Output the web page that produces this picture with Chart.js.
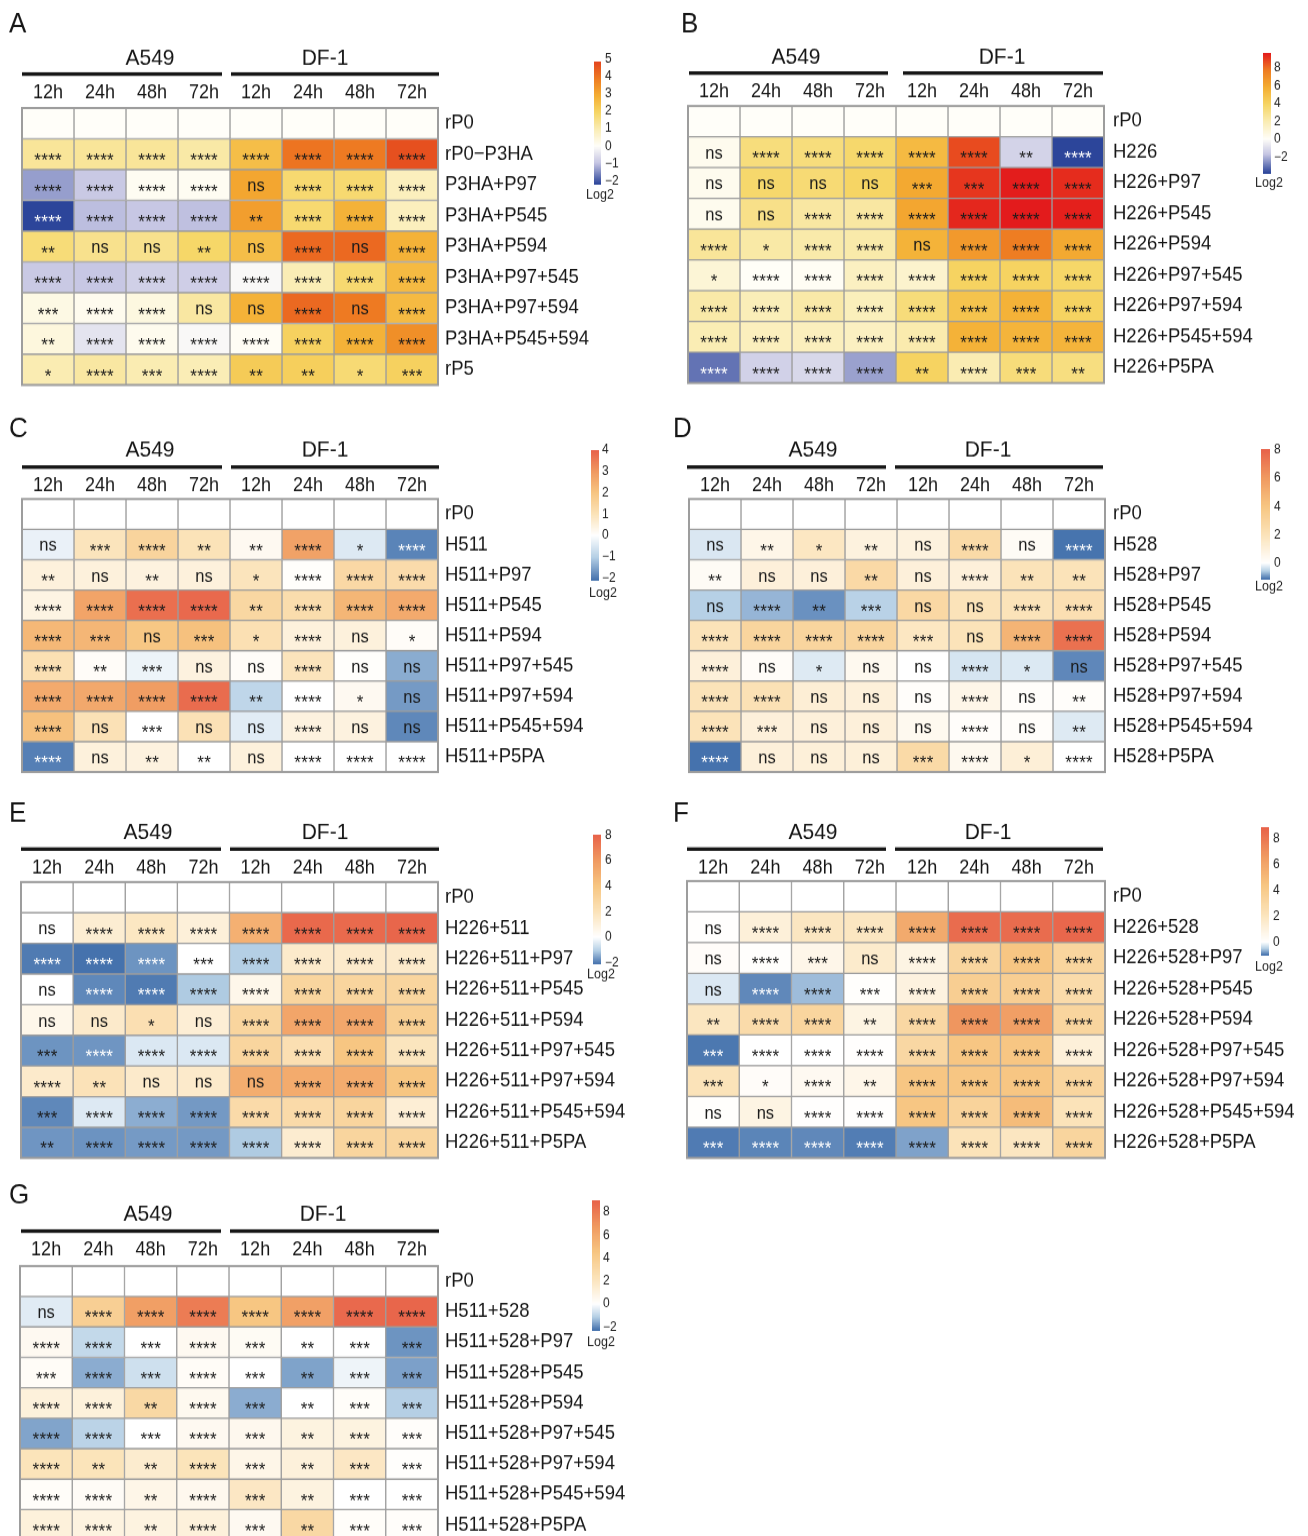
<!DOCTYPE html>
<html>
<head>
<meta charset="utf-8">
<script src="https://cdn.jsdelivr.net/npm/chart.js@4.4.1/dist/chart.umd.min.js"></script>
<style>
  html, body { margin: 0; padding: 0; background: #ffffff; width: 1308px; height: 1536px; overflow: hidden; }
  .panel { position: absolute; transform-origin: 0 0; }
  canvas { display: block; }
</style>
</head>
<body>
<script>
// ---- shared labels ----
const timeLabels = ['12h', '24h', '48h', '72h', '12h', '24h', '48h', '72h'];
const cellLines = ['A549', 'DF-1'];

// ---- panel A ----
const rowsA = ['rP0', 'rP0\u2212P3HA', 'P3HA+P97', 'P3HA+P545', 'P3HA+P594', 'P3HA+P97+545', 'P3HA+P97+594', 'P3HA+P545+594', 'rP5'];
const log2A = [
  [0, 0, 0, 0, 0, 0, 0, 0],
  [1.3, 1.3, 1.3, 1.15, 2.5, 4.0, 3.9, 4.65],
  [-1.35, -0.92, 0.1, 0.1, 3.05, 1.8, 1.8, 0.85],
  [-2.2, -1.05, -0.95, -1.03, 3.2, 1.8, 2.8, 0.85],
  [1.7, 1.45, 1.45, 1.9, 2.5, 4.2, 4.2, 2.8],
  [-0.92, -0.95, -0.8, -0.82, -0.1, 0.97, 1.8, 2.6],
  [0.3, 0.15, 0.35, 1.2, 2.8, 4.2, 3.9, 2.6],
  [0.4, -0.45, 0.15, -0.1, 0.05, 2.05, 2.8, 3.5],
  [1.0, 1.2, 1.0, 0.95, 2.2, 2.1, 1.75, 2.05]
];
const sigA = [
  '',
  '**** **** **** **** **** **** **** ****',
  '**** **** **** **** ns **** **** ****',
  '**** **** **** **** ** **** **** ****',
  '** ns ns ** ns **** ns ****',
  '**** **** **** **** **** **** **** ****',
  '*** **** **** ns ns **** ns ****',
  '** **** **** **** **** **** **** ****',
  '* **** *** **** ** ** * ***'
];
const whiteA = ['3:0'];

// ---- panel B ----
const rowsB = ['rP0', 'H226', 'H226+P97', 'H226+P545', 'H226+P594', 'H226+P97+545', 'H226+P97+594', 'H226+P545+594', 'H226+P5PA'];
const log2B = [
  [0, 0, 0, 0, 0, 0, 0, 0],
  [0.3, 3.3, 3.3, 3.7, 5.2, 8.7, -1.3, -3.8],
  [0.3, 3.7, 3.5, 3.9, 6.0, 9.1, 9.6, 9.3],
  [0.3, 3.0, 2.4, 2.4, 6.1, 9.4, 9.65, 9.55],
  [2.6, 2.3, 2.2, 2.2, 5.55, 6.6, 7.7, 6.0],
  [1.0, 0.05, 0.15, 1.6, 1.25, 4.0, 4.0, 3.8],
  [2.25, 1.85, 2.25, 1.75, 3.35, 4.8, 5.6, 4.0],
  [1.95, 1.7, 1.7, 1.6, 2.1, 5.6, 5.5, 5.5],
  [-3.05, -1.35, -1.15, -2.3, 4.0, 2.0, 3.35, 3.2]
];
const sigB = [
  '',
  'ns **** **** **** **** **** ** ****',
  'ns ns ns ns *** *** **** ****',
  'ns ns **** **** **** **** **** ****',
  '**** * **** **** ns **** **** ****',
  '* **** **** **** **** **** **** ****',
  '**** **** **** **** **** **** **** ****',
  '**** **** **** **** **** **** **** ****',
  '**** **** **** **** ** **** *** **'
];
const whiteB = ['1:7', '8:0'];

// ---- panel C ----
const rowsC = ['rP0', 'H511', 'H511+P97', 'H511+P545', 'H511+P594', 'H511+P97+545', 'H511+P97+594', 'H511+P545+594', 'H511+P5PA'];
const log2C = [
  [0, 0, 0, 0, 0, 0, 0, 0],
  [-0.3, 0.95, 1.5, 1.0, 0.2, 2.8, -0.48, -1.9],
  [0.5, 0.5, 0.45, 0.5, 0.95, 0.05, 1.35, 1.25],
  [0.4, 2.75, 3.75, 3.85, 1.4, 1.2, 2.35, 2.6],
  [2.3, 2.35, 1.95, 2.1, 1.1, 0.5, 0.5, 0.1],
  [1.1, 0.1, -0.25, 0.45, 0.1, 0.95, 0.05, -1.45],
  [2.6, 2.65, 2.9, 3.8, -0.9, 0, 0.2, -1.65],
  [2.1, 1.05, 0, 1.05, -0.42, 0.45, 0.45, -1.85],
  [-1.95, 0.5, 0.45, 0, 0.5, 0, 0, 0]
];
const sigC = [
  '',
  'ns *** **** ** ** **** * ****',
  '** ns ** ns * **** **** ****',
  '**** **** **** **** ** **** **** ****',
  '**** *** ns *** * **** ns *',
  '**** ** *** ns ns **** ns ns',
  '**** **** **** **** ** **** * ns',
  '**** ns *** ns ns **** ns ns',
  '**** ns ** ** ns **** **** ****'
];
const whiteC = ['1:7', '8:0'];

// ---- panel D ----
const rowsD = ['rP0', 'H528', 'H528+P97', 'H528+P545', 'H528+P594', 'H528+P97+545', 'H528+P97+594', 'H528+P545+594', 'H528+P5PA'];
const log2D = [
  [0, 0, 0, 0, 0, 0, 0, 0],
  [-0.28, 0.65, 1.75, 0.95, 0.95, 2.65, 0.3, -1.12],
  [0.3, 1.05, 1.05, 2.7, 1.05, 1.05, 2.0, 2.0],
  [-0.55, -0.72, -0.94, -0.53, 2.75, 2.0, 2.0, 2.25],
  [2.0, 3.0, 3.0, 3.0, 1.75, 2.0, 4.8, 7.5],
  [1.05, 0.2, -0.25, 0.45, 0, -0.31, -0.26, -1.0],
  [2.0, 2.15, 1.2, 1.05, 0.15, 0.65, 0.15, 0.15],
  [2.0, 1.05, 1.05, 1.05, 0.45, 0.15, 0.15, -0.25],
  [-1.15, 1.05, 1.1, 1.1, 2.65, 0.45, 1.15, 0]
];
const sigD = [
  '',
  'ns ** * ** ns **** ns ****',
  '** ns ns ** ns **** ** **',
  'ns **** ** *** ns ns **** ****',
  '**** **** **** **** *** ns **** ****',
  '**** ns * ns ns **** * ns',
  '**** **** ns ns ns **** ns **',
  '**** *** ns ns ns **** ns **',
  '**** ns ns ns *** **** * ****'
];
const whiteD = ['1:7', '8:0'];

// ---- panel E ----
const rowsE = ['rP0', 'H226+511', 'H226+511+P97', 'H226+511+P545', 'H226+511+P594', 'H226+511+P97+545', 'H226+511+P97+594', 'H226+511+P545+594', 'H226+511+P5PA'];
const log2E = [
  [0, 0, 0, 0, 0, 0, 0, 0],
  [0, 1.3, 1.75, 1.1, 5.0, 7.8, 7.75, 7.9],
  [-2.0, -2.1, -1.72, 0, -1.05, 1.5, 1.5, 1.5],
  [0, -1.85, -2.0, -1.1, 0.6, 3.0, 3.0, 3.0],
  [0.6, 1.5, 2.25, 1.2, 3.0, 5.5, 5.4, 3.4],
  [-1.72, -1.7, -0.5, -0.5, 3.0, 2.25, 4.0, 1.85],
  [1.5, 2.05, 1.5, 1.5, 5.15, 5.25, 5.2, 4.0],
  [-1.85, -0.48, -1.43, -1.66, 2.6, 2.6, 3.0, 1.2],
  [-1.7, -1.73, -1.65, -1.66, -1.1, 1.35, 3.0, 3.0]
];
const sigE = [
  '',
  'ns **** **** **** **** **** **** ****',
  '**** **** **** *** **** **** **** ****',
  'ns **** **** **** **** **** **** ****',
  'ns ns * ns **** **** **** ****',
  '*** **** **** **** **** **** **** ****',
  '**** ** ns ns ns **** **** ****',
  '*** **** **** **** **** **** **** ****',
  '** **** **** **** **** **** **** ****'
];
const whiteE = ['2:0', '2:1', '2:2', '3:1', '3:2', '5:1'];

// ---- panel F ----
const rowsF = ['rP0', 'H226+528', 'H226+528+P97', 'H226+528+P545', 'H226+528+P594', 'H226+528+P97+545', 'H226+528+P97+594', 'H226+528+P545+594', 'H226+528+P5PA'];
const log2F = [
  [0, 0, 0, 0, 0, 0, 0, 0],
  [0.05, 1.2, 1.95, 1.95, 5.85, 8.5, 8.5, 8.7],
  [0.2, 0.1, 0.7, 1.6, 0.9, 3.3, 4.4, 3.3],
  [-0.24, -0.88, -0.6, 0.1, 1.0, 3.8, 3.8, 2.8],
  [2.0, 2.8, 3.3, 0.9, 3.1, 6.8, 6.4, 3.3],
  [-0.97, 0, 0, 0.05, 3.1, 4.4, 4.4, 1.2],
  [2.2, 0.2, 0.45, 0.7, 4.4, 4.4, 4.4, 3.3],
  [0.1, 0.9, 0.05, 0.05, 4.4, 3.4, 4.95, 2.2],
  [-0.95, -0.9, -0.88, -0.94, -0.74, 2.2, 1.95, 3.3]
];
const sigF = [
  '',
  'ns **** **** **** **** **** **** ****',
  'ns **** *** ns **** **** **** ****',
  'ns **** **** *** **** **** **** ****',
  '** **** **** ** **** **** **** ****',
  '*** **** **** **** **** **** **** ****',
  '*** * **** ** **** **** **** ****',
  'ns ns **** **** **** **** **** ****',
  '*** **** **** **** **** **** **** ****'
];
const whiteF = ['3:1', '5:0', '8:0', '8:1', '8:2', '8:3'];

// ---- panel G ----
const rowsG = ['rP0', 'H511+528', 'H511+528+P97', 'H511+528+P545', 'H511+528+P594', 'H511+528+P97+545', 'H511+528+P97+594', 'H511+528+P545+594', 'H511+528+P5PA'];
const log2G = [
  [0, 0, 0, 0, 0, 0, 0, 0],
  [-0.47, 3.75, 6.45, 7.95, 4.5, 6.4, 8.7, 8.85],
  [0.45, -0.9, 0, 0.45, 0.35, 0, 0, -1.85],
  [0.25, -1.55, -0.74, 0.25, 0, -1.67, -0.25, -1.7],
  [1.15, 1.15, 3.1, 0.5, -1.55, 0, 0.2, -1.12],
  [-1.65, -1.03, 0, 0.45, 0.55, 1.0, 1.0, 0.15],
  [2.2, 2.2, 1.55, 2.2, 0.75, 1.15, 1.9, 0.1],
  [0.2, 0.3, 0.75, 0.55, 1.9, 1.0, 0, 0],
  [1.15, 1.0, 1.0, 1.15, 0.45, 3.1, 0.2, 0.15]
];
const sigG = [
  '',
  'ns **** **** **** **** **** **** ****',
  '**** **** *** **** *** ** *** ***',
  '*** **** *** **** *** ** *** ***',
  '**** **** ** **** *** ** *** ***',
  '**** **** *** **** *** ** *** ***',
  '**** ** ** **** *** ** *** ***',
  '**** **** ** **** *** ** *** ***',
  '**** **** ** **** *** ** *** ***'
];
const whiteG = [];

// ---- colour legends: value range and ticks of each panel ----
const legendA = { lo: -2.18, hi: 4.83, ticks: [-2, -1, 0, 1, 2, 3, 4, 5] };
const legendB = { lo: -3.8, hi: 9.66, ticks: [-2, 0, 2, 4, 6, 8] };
const legendC = { lo: -2.1, hi: 3.96, ticks: [-2, -1, 0, 1, 2, 3, 4] };
const legendD = { lo: -1.13, hi: 8.0, ticks: [0, 2, 4, 6, 8] };
const legendE = { lo: -2.1, hi: 8.0, ticks: [-2, 0, 2, 4, 6, 8] };
const legendF = { lo: -1.0, hi: 8.85, ticks: [0, 2, 4, 6, 8] };
const legendG = { lo: -2.26, hi: 8.96, ticks: [-2, 0, 2, 4, 6, 8] };

// ---- colour ramps (white at 0, separate ramps for gains and losses) ----
const warmStops = [[0, '#fffef9'], [0.2, '#faedb5'], [0.4, '#f6d665'], [0.6, '#f4ae33'], [0.8, '#ee7c22']];
const purpleStops = [[0, '#fffef9'], [0.45, '#c5c5e3'], [1, '#2c459a']];
const paletteA = { pos: warmStops.concat([[1, '#e4461e']]), neg: purpleStops };
const paletteB = { pos: warmStops.concat([[1, '#e31a1c']]), neg: purpleStops };
const paletteSoft = {
  pos: [[0, '#ffffff'], [0.25, '#fbe3b9'], [0.5, '#f7c682'], [0.75, '#f09a61'], [1, '#e8634a']],
  neg: [[0, '#ffffff'], [0.5, '#b4cfe5'], [1, '#4572ad']]
};

const SY = 1.08; // vertical stretch of the figure
const FONT = '"Liberation Sans", Arial, Helvetica, sans-serif';
const INK = '#161616';

function hexToRgb(h) {
  const n = parseInt(h.slice(1), 16);
  return [(n >> 16) & 255, (n >> 8) & 255, n & 255];
}
function ramp(stops, f) {
  f = Math.max(0, Math.min(1, f));
  for (let k = 1; k < stops.length; k++) {
    if (f <= stops[k][0]) {
      const [f0, c0] = stops[k - 1], [f1, c1] = stops[k];
      const t = (f - f0) / (f1 - f0);
      const a = hexToRgb(c0), b = hexToRgb(c1);
      return 'rgb(' + a.map((v, i) => Math.round(v + (b[i] - v) * t)).join(',') + ')';
    }
  }
  return stops[stops.length - 1][1];
}
function colorFor(v, legend, palette) {
  return v >= 0 ? ramp(palette.pos, v / legend.hi) : ramp(palette.neg, v / legend.lo);
}

// ---- page layout of the seven panels ----
const panels = [
  { letter: 'A', rows: rowsA, values: log2A, sig: sigA, white: whiteA, legend: legendA, palette: paletteA,
    x0: 0, y0: 0, h: 395, grid: { l: 22, r: 438, t: 108, b: 385 }, letterPos: [9, 32], timeY: 93,
    hdrY: 58, hdrX: [150, 325], lineY: 74, lines: [[22, 222], [231, 439]], labelPad: 7,
    bar: { x: 594, w: 7, t: 62, b: 184, labelX: 605, logX: 600, logY: 195 } },
  { letter: 'B', rows: rowsB, values: log2B, sig: sigB, white: whiteB, legend: legendB, palette: paletteB,
    x0: 660, y0: 0, h: 395, grid: { l: 688, r: 1104, t: 106, b: 383 }, letterPos: [681, 32], timeY: 92,
    hdrY: 57, hdrX: [796, 1002], lineY: 73, lines: [[689, 888], [903, 1103]], labelPad: 9,
    bar: { x: 1263, w: 8, t: 53, b: 173, labelX: 1274, logX: 1269, logY: 183 } },
  { letter: 'C', rows: rowsC, values: log2C, sig: sigC, white: whiteC, legend: legendC, palette: paletteSoft,
    x0: 0, y0: 395, h: 390, grid: { l: 22, r: 438, t: 499, b: 772 }, letterPos: [9, 437], timeY: 486,
    hdrY: 450, hdrX: [150, 325], lineY: 467, lines: [[22, 222], [231, 439]], labelPad: 7,
    bar: { x: 591, w: 8, t: 451, b: 580, labelX: 602, logX: 603, logY: 593 } },
  { letter: 'D', rows: rowsD, values: log2D, sig: sigD, white: whiteD, legend: legendD, palette: paletteSoft,
    x0: 660, y0: 395, h: 390, grid: { l: 689, r: 1105, t: 499, b: 772 }, letterPos: [673, 437], timeY: 486,
    hdrY: 450, hdrX: [813, 988], lineY: 467, lines: [[687, 886], [895, 1103]], labelPad: 8,
    bar: { x: 1261, w: 9, t: 450, b: 579, labelX: 1274, logX: 1269, logY: 587 } },
  { letter: 'E', rows: rowsE, values: log2E, sig: sigE, white: whiteE, legend: legendE, palette: paletteSoft,
    x0: 0, y0: 785, h: 385, grid: { l: 21, r: 438, t: 882, b: 1158 }, letterPos: [9, 822], timeY: 868,
    hdrY: 833, hdrX: [148, 325], lineY: 849, lines: [[21, 221], [230, 439]], labelPad: 7,
    bar: { x: 593, w: 8, t: 835, b: 964, labelX: 605, logX: 601, logY: 975 } },
  { letter: 'F', rows: rowsF, values: log2F, sig: sigF, white: whiteF, legend: legendF, palette: paletteSoft,
    x0: 660, y0: 785, h: 385, grid: { l: 687, r: 1105, t: 881, b: 1158 }, letterPos: [673, 822], timeY: 868,
    hdrY: 833, hdrX: [813, 988], lineY: 849, lines: [[687, 886], [895, 1103]], labelPad: 8,
    bar: { x: 1261, w: 8, t: 828, b: 955, labelX: 1273, logX: 1269, logY: 967 } },
  { letter: 'G', rows: rowsG, values: log2G, sig: sigG, white: whiteG, legend: legendG, palette: paletteSoft,
    x0: 0, y0: 1170, h: 372, grid: { l: 20, r: 438, t: 1266, b: 1540 }, letterPos: [9, 1203], timeY: 1250,
    hdrY: 1215, hdrX: [148, 323], lineY: 1231, lines: [[21, 221], [230, 439]], labelPad: 7,
    bar: { x: 592, w: 8, t: 1201, b: 1330, labelX: 603, logX: 601, logY: 1342 } }
];

Chart.defaults.font.family = FONT;
Chart.defaults.color = INK;

const CANVAS_W = 648;
const ROW_LABEL_W = 200;
const TIME_FONT = 18;

// keep axis label overhang from shrinking the grid
function noOverhang(s) {
  s.paddingTop = 0; s.paddingBottom = 0; s.paddingLeft = 0; s.paddingRight = 0;
}

function decorPlugin(p) {
  const ty = y => (y - p.y0) / SY;
  const tx = x => x - p.x0;
  const sigRows = p.sig.map(s => (s ? s.split(' ') : []));
  return {
    id: 'panelDecor' + p.letter,
    afterDatasetsDraw(chart) {
      const ctx = chart.ctx;
      const area = chart.chartArea;
      ctx.save();
      // outer frame of the grid
      ctx.strokeStyle = '#9d9d9d';
      ctx.lineWidth = 2;
      ctx.strokeRect(area.left, area.top, area.right - area.left, area.bottom - area.top);
      // significance marks in each cell
      ctx.textAlign = 'center';
      ctx.textBaseline = 'alphabetic';
      chart.data.datasets.forEach((ds, j) => {
        const meta = chart.getDatasetMeta(j);
        meta.data.forEach((el, i) => {
          const txt = (sigRows[i] || [])[j];
          if (!txt) return;
          const cx = (el.x + el.base) / 2;
          const cy = el.y;
          ctx.fillStyle = p.white.includes(i + ':' + j) ? '#ffffff' : '#1a1a1a';
          if (txt === 'ns') {
            ctx.font = '16.5px ' + FONT;
            ctx.letterSpacing = '0px';
            ctx.fillText(txt, cx, cy + 6);
          } else {
            ctx.font = '17px ' + FONT;
            ctx.letterSpacing = '0.3px';
            ctx.fillText(txt, cx + 0.2, cy + 11.3);
          }
        });
      });
      ctx.letterSpacing = '0px';
      ctx.restore();
    },
    afterDraw(chart) {
      const ctx = chart.ctx;
      ctx.save();
      ctx.fillStyle = INK;
      // panel letter
      ctx.font = '26px ' + FONT;
      ctx.textAlign = 'left';
      ctx.textBaseline = 'alphabetic';
      ctx.fillText(p.letter, tx(p.letterPos[0]), ty(p.letterPos[1]));
      // cell-line headers and their rules
      ctx.font = '21px ' + FONT;
      ctx.textAlign = 'center';
      ctx.textBaseline = 'middle';
      cellLines.forEach((name, k) => ctx.fillText(name, tx(p.hdrX[k]), ty(p.hdrY)));
      p.lines.forEach(([a, b]) => ctx.fillRect(tx(a), ty(p.lineY) - 1.6, b - a, 3.3));
      // colour key
      const bar = p.bar, lg = p.legend;
      const top = ty(bar.t), bottom = ty(bar.b);
      for (let yy = Math.floor(top); yy < bottom; yy++) {
        const v = lg.hi - ((yy + 0.5 - top) / (bottom - top)) * (lg.hi - lg.lo);
        ctx.fillStyle = colorFor(v, lg, p.palette);
        ctx.fillRect(tx(bar.x), yy, bar.w, 1);
      }
      ctx.fillStyle = '#222222';
      ctx.font = '12px ' + FONT;
      ctx.textAlign = 'left';
      ctx.textBaseline = 'middle';
      lg.ticks.forEach(t => {
        const yPage = bar.t + ((lg.hi - t) / (lg.hi - lg.lo)) * (bar.b - bar.t);
        const label = t < 0 ? '\u2212' + Math.abs(t) : String(t);
        ctx.fillText(label, tx(bar.labelX), ty(yPage));
      });
      ctx.font = '12.5px ' + FONT;
      ctx.textAlign = 'center';
      ctx.fillText('Log2', tx(bar.logX), ty(bar.logY));
      ctx.restore();
    }
  };
}

function buildPanel(p) {
  const wrap = document.createElement('div');
  wrap.className = 'panel';
  wrap.style.left = p.x0 + 'px';
  wrap.style.top = p.y0 + 'px';
  wrap.style.transform = 'scaleY(' + SY + ')';
  const canvas = document.createElement('canvas');
  const H = Math.round(p.h / SY);
  canvas.width = CANVAS_W;
  canvas.height = H;
  canvas.style.width = CANVAS_W + 'px';
  canvas.style.height = H + 'px';
  wrap.appendChild(canvas);
  document.body.appendChild(wrap);

  const ty = y => (y - p.y0) / SY;
  const gridTop = ty(p.grid.t);
  const gridBottom = ty(p.grid.b);
  const gridLeft = p.grid.l - p.x0;
  const gridRight = p.grid.r - p.x0;
  const timePad = gridTop - ty(p.timeY) - 0.6 * TIME_FONT;

  // one stacked dataset per time column; each cell spans one unit on the x scale
  const datasets = timeLabels.map((t, j) => ({
    label: cellLines[Math.floor(j / 4)] + ' ' + t,
    data: p.rows.map(() => 1),
    backgroundColor: p.values.map(row => colorFor(row[j], p.legend, p.palette)),
    borderColor: '#9d9d9d',
    borderWidth: 1,
    borderSkipped: false,
    barPercentage: 1,
    categoryPercentage: 1,
    xAxisID: 'x',
    yAxisID: 'y'
  }));

  new Chart(canvas, {
    type: 'bar',
    data: { labels: p.rows, datasets },
    options: {
      indexAxis: 'y',
      responsive: false,
      animation: false,
      devicePixelRatio: 1,
      events: [],
      layout: {
        autoPadding: false,
        padding: { left: gridLeft, right: CANVAS_W - gridRight - ROW_LABEL_W, top: 0, bottom: H - gridBottom }
      },
      plugins: { legend: { display: false }, tooltip: { enabled: false } },
      scales: {
        x: { type: 'linear', stacked: true, min: 0, max: timeLabels.length, display: false },
        y: {
          type: 'category', position: 'right', stacked: true, offset: true,
          grid: { display: false, drawTicks: false }, border: { display: false },
          ticks: { padding: p.labelPad, color: INK, font: { size: 18.5 }, autoSkip: false },
          afterFit: s => { s.width = ROW_LABEL_W; noOverhang(s); }
        },
        xt: {
          type: 'category', axis: 'x', position: 'top', labels: timeLabels, offset: true,
          grid: { display: false, drawTicks: false }, border: { display: false },
          ticks: { padding: timePad, color: INK, font: { size: TIME_FONT }, autoSkip: false, maxRotation: 0 },
          afterFit: s => { s.height = gridTop; noOverhang(s); }
        }
      }
    },
    plugins: [decorPlugin(p)]
  });
}

panels.forEach(buildPanel);
</script>
</body>
</html>
